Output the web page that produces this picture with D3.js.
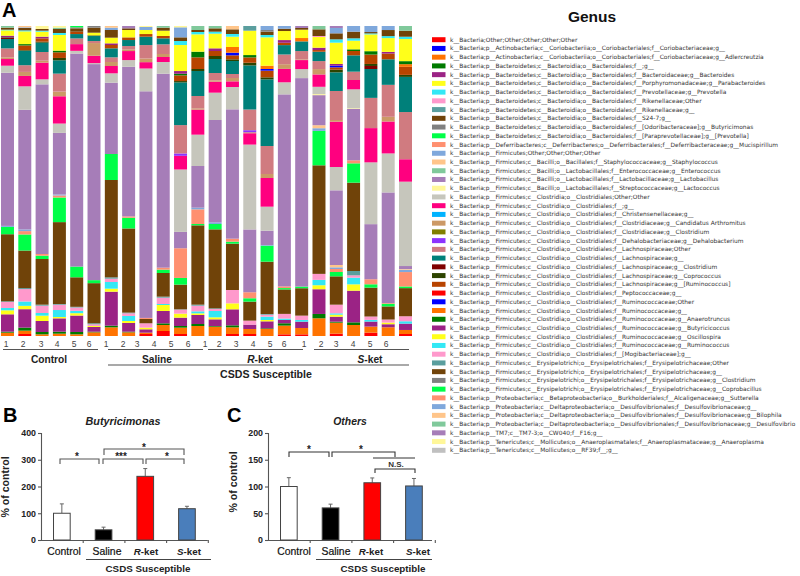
<!DOCTYPE html>
<html>
<head>
<meta charset="utf-8">
<script src="https://cdnjs.cloudflare.com/ajax/libs/d3/7.8.5/d3.min.js"></script>
<style>
html,body{margin:0;padding:0;background:#fff;}
svg{display:block;}
text{font-family:"Liberation Sans",Arial,sans-serif;}
</style>
</head>
<body>
<svg id="chart" width="800" height="576"></svg>
<script>
// ---------- DATA ----------
const taxa = [
"k__Bacteria;Other;Other;Other;Other;Other",
"k__Bacteria;p__Actinobacteria;c__Coriobacteriia;o__Coriobacteriales;f__Coriobacteriaceae;g__",
"k__Bacteria;p__Actinobacteria;c__Coriobacteriia;o__Coriobacteriales;f__Coriobacteriaceae;g__Adlercreutzia",
"k__Bacteria;p__Bacteroidetes;c__Bacteroidia;o__Bacteroidales;f__;g__",
"k__Bacteria;p__Bacteroidetes;c__Bacteroidia;o__Bacteroidales;f__Bacteroidaceae;g__Bacteroides",
"k__Bacteria;p__Bacteroidetes;c__Bacteroidia;o__Bacteroidales;f__Porphyromonadaceae;g__Parabacteroides",
"k__Bacteria;p__Bacteroidetes;c__Bacteroidia;o__Bacteroidales;f__Prevotellaceae;g__Prevotella",
"k__Bacteria;p__Bacteroidetes;c__Bacteroidia;o__Bacteroidales;f__Rikenellaceae;Other",
"k__Bacteria;p__Bacteroidetes;c__Bacteroidia;o__Bacteroidales;f__Rikenellaceae;g__",
"k__Bacteria;p__Bacteroidetes;c__Bacteroidia;o__Bacteroidales;f__S24-7;g__",
"k__Bacteria;p__Bacteroidetes;c__Bacteroidia;o__Bacteroidales;f__[Odoribacteraceae];g__Butyricimonas",
"k__Bacteria;p__Bacteroidetes;c__Bacteroidia;o__Bacteroidales;f__[Paraprevotellaceae];g__[Prevotella]",
"k__Bacteria;p__Deferribacteres;c__Deferribacteres;o__Deferribacterales;f__Deferribacteraceae;g__Mucispirillum",
"k__Bacteria;p__Firmicutes;Other;Other;Other;Other",
"k__Bacteria;p__Firmicutes;c__Bacilli;o__Bacillales;f__Staphylococcaceae;g__Staphylococcus",
"k__Bacteria;p__Firmicutes;c__Bacilli;o__Lactobacillales;f__Enterococcaceae;g__Enterococcus",
"k__Bacteria;p__Firmicutes;c__Bacilli;o__Lactobacillales;f__Lactobacillaceae;g__Lactobacillus",
"k__Bacteria;p__Firmicutes;c__Bacilli;o__Lactobacillales;f__Streptococcaceae;g__Lactococcus",
"k__Bacteria;p__Firmicutes;c__Clostridia;o__Clostridiales;Other;Other",
"k__Bacteria;p__Firmicutes;c__Clostridia;o__Clostridiales;f__;g__",
"k__Bacteria;p__Firmicutes;c__Clostridia;o__Clostridiales;f__Christensenellaceae;g__",
"k__Bacteria;p__Firmicutes;c__Clostridia;o__Clostridiales;f__Clostridiaceae;g__Candidatus Arthromitus",
"k__Bacteria;p__Firmicutes;c__Clostridia;o__Clostridiales;f__Clostridiaceae;g__Clostridium",
"k__Bacteria;p__Firmicutes;c__Clostridia;o__Clostridiales;f__Dehalobacteriaceae;g__Dehalobacterium",
"k__Bacteria;p__Firmicutes;c__Clostridia;o__Clostridiales;f__Lachnospiraceae;Other",
"k__Bacteria;p__Firmicutes;c__Clostridia;o__Clostridiales;f__Lachnospiraceae;g__",
"k__Bacteria;p__Firmicutes;c__Clostridia;o__Clostridiales;f__Lachnospiraceae;g__Clostridium",
"k__Bacteria;p__Firmicutes;c__Clostridia;o__Clostridiales;f__Lachnospiraceae;g__Coprococcus",
"k__Bacteria;p__Firmicutes;c__Clostridia;o__Clostridiales;f__Lachnospiraceae;g__[Ruminococcus]",
"k__Bacteria;p__Firmicutes;c__Clostridia;o__Clostridiales;f__Peptococcaceae;g__",
"k__Bacteria;p__Firmicutes;c__Clostridia;o__Clostridiales;f__Ruminococcaceae;Other",
"k__Bacteria;p__Firmicutes;c__Clostridia;o__Clostridiales;f__Ruminococcaceae;g__",
"k__Bacteria;p__Firmicutes;c__Clostridia;o__Clostridiales;f__Ruminococcaceae;g__Anaerotruncus",
"k__Bacteria;p__Firmicutes;c__Clostridia;o__Clostridiales;f__Ruminococcaceae;g__Butyricicoccus",
"k__Bacteria;p__Firmicutes;c__Clostridia;o__Clostridiales;f__Ruminococcaceae;g__Oscillospira",
"k__Bacteria;p__Firmicutes;c__Clostridia;o__Clostridiales;f__Ruminococcaceae;g__Ruminococcus",
"k__Bacteria;p__Firmicutes;c__Clostridia;o__Clostridiales;f__[Mogibacteriaceae];g__",
"k__Bacteria;p__Firmicutes;c__Erysipelotrichi;o__Erysipelotrichales;f__Erysipelotrichaceae;Other",
"k__Bacteria;p__Firmicutes;c__Erysipelotrichi;o__Erysipelotrichales;f__Erysipelotrichaceae;g__",
"k__Bacteria;p__Firmicutes;c__Erysipelotrichi;o__Erysipelotrichales;f__Erysipelotrichaceae;g__Clostridium",
"k__Bacteria;p__Firmicutes;c__Erysipelotrichi;o__Erysipelotrichales;f__Erysipelotrichaceae;g__Coprobacillus",
"k__Bacteria;p__Proteobacteria;c__Betaproteobacteria;o__Burkholderiales;f__Alcaligenaceae;g__Sutterella",
"k__Bacteria;p__Proteobacteria;c__Deltaproteobacteria;o__Desulfovibrionales;f__Desulfovibrionaceae;g__",
"k__Bacteria;p__Proteobacteria;c__Deltaproteobacteria;o__Desulfovibrionales;f__Desulfovibrionaceae;g__Bilophila",
"k__Bacteria;p__Proteobacteria;c__Deltaproteobacteria;o__Desulfovibrionales;f__Desulfovibrionaceae;g__Desulfovibrio",
"k__Bacteria;p__TM7;c__TM7-3;o__CW040;f__F16;g__",
"k__Bacteria;p__Tenericutes;c__Mollicutes;o__Anaeroplasmatales;f__Anaeroplasmataceae;g__Anaeroplasma",
"k__Bacteria;p__Tenericutes;c__Mollicutes;o__RF39;f__;g__"
];
const taxaColors = [
"#ff0000","#0000ff","#ff7300","#007a00","#9b2385","#ffff1a","#33e8f5","#ff99cc","#5a9e9e","#704309",
"#808080","#00ff48","#ff9070","#7fa8dc","#ffc58a","#80c99b","#a67db8","#fff799","#c6c6bc","#ff007f",
"#00b3ff","#cc9966","#807f00","#8c33ff","#d07b80","#00807a","#800000","#2d4400","#b84400","#ff0000",
"#0000ff","#ff7300","#007a00","#9b2385","#ffff1a","#33e8f5","#ff99cc","#5a9e9e","#704309","#808080",
"#00ff48","#ff9070","#7fa8dc","#ffc58a","#80c99b","#a67db8","#fff799","#c0c0c0"
];
// each sample: [taxon index, relative abundance] (normalised when stacked)
const control1 = [[44,5],[38,6],[35,2],[34,16],[33,5],[26,3],[27,2],[25,28],[24,27],[21,5],[19,20],[18,21],[16,459],[13,3],[11,22],[9,201],[8,2],[7,18],[6,7],[5,12],[4,52],[3,3],[2,10]];
const control2 = [[43,4],[42,2],[38,7],[35,3],[34,38],[32,4],[28,14],[27,2],[25,43],[24,20],[21,12],[19,31],[18,70],[16,357],[13,5],[12,10],[11,48],[9,112],[8,3],[7,37],[6,13],[5,10],[4,55],[3,9],[2,10],[0,6]];
const control3 = [[46,9],[38,5],[35,3],[34,15],[33,5],[27,3],[28,10],[25,28],[24,26],[21,6],[19,50],[18,15],[16,509],[12,5],[11,10],[9,137],[8,3],[7,22],[6,8],[5,16],[4,33],[3,7],[2,5]];
const control4 = [[46,5],[44,4],[38,12],[35,6],[34,47],[32,5],[28,17],[27,7],[25,40],[24,54],[21,14],[19,82],[18,28],[16,185],[13,3],[12,6],[11,74],[9,246],[8,2],[7,16],[6,21],[5,4],[4,40],[3,6],[2,7]];
const control5 = [[39,3],[38,10],[40,4],[28,7],[25,13],[24,17],[19,20],[18,8],[16,635],[11,32],[8,2],[9,88],[7,10],[6,7],[5,7],[4,49],[3,7],[2,5]];
const control6 = [[39,5],[38,15],[34,8],[27,2],[25,15],[24,6],[21,38],[19,22],[18,3],[16,646],[11,9],[9,120],[8,3],[7,5],[5,3],[4,14],[3,2],[2,11]];
const saline1 = [[42,7],[38,23],[43,5],[34,17],[33,5],[28,10],[25,27],[24,14],[21,12],[19,22],[18,28],[16,214],[11,78],[9,292],[8,4],[7,10],[6,20],[5,9],[4,102],[3,5],[2,26]];
const saline2 = [[45,7],[38,5],[34,22],[28,8],[25,18],[24,10],[21,5],[19,27],[18,20],[16,448],[12,4],[11,32],[9,252],[8,2],[7,8],[6,15],[5,6],[4,26],[3,2],[2,11]];
const saline3 = [[42,9],[46,3],[34,12],[28,8],[25,25],[24,40],[21,11],[19,19],[18,68],[16,677],[12,3],[9,13],[7,13],[5,5],[4,10],[2,4],[0,6]];
const saline4 = [[44,5],[38,9],[34,16],[28,7],[25,18],[24,29],[21,9],[19,15],[18,35],[16,582],[12,6],[11,10],[9,71],[8,3],[7,19],[6,3],[5,18],[4,37],[3,5],[2,18],[0,15]];
const saline5 = [[42,30],[46,4],[38,11],[35,12],[34,78],[32,5],[27,4],[33,8],[28,17],[25,128],[24,85],[23,7],[19,41],[18,187],[16,49],[12,89],[11,20],[9,74],[8,1],[7,12],[5,12],[4,25],[3,5],[2,19],[0,6]];
const saline6 = [[44,12],[38,6],[35,7],[34,52],[32,17],[28,35],[27,6],[25,75],[24,37],[21,4],[19,75],[18,94],[16,125],[13,5],[12,44],[11,4],[9,238],[8,3],[7,17],[6,6],[5,5],[4,27],[3,6],[2,30]];
const rket1 = [[44,7],[38,10],[35,6],[34,44],[33,8],[28,15],[27,9],[25,42],[24,22],[21,4],[19,33],[18,82],[16,307],[13,5],[11,16],[9,237],[8,2],[7,6],[6,19],[5,6],[4,20],[3,2],[2,28]];
const rket2 = [[43,10],[38,14],[35,8],[34,31],[31,17],[30,8],[28,12],[27,5],[25,39],[24,12],[21,10],[19,17],[18,67],[16,388],[12,9],[11,6],[9,139],[7,40],[5,18],[4,48],[3,6],[2,20],[0,6]];
const rket3 = [[37,14],[34,73],[32,7],[27,8],[28,16],[25,132],[24,62],[23,6],[21,3],[19,34],[18,254],[16,188],[12,18],[11,10],[9,57],[7,12],[4,13],[2,15],[0,6]];
const rket4 = [[42,12],[38,10],[35,7],[34,85],[39,5],[31,10],[30,5],[28,20],[27,6],[25,200],[24,84],[21,12],[19,86],[18,72],[16,43],[13,2],[11,48],[9,157],[8,2],[7,6],[6,10],[5,4],[4,21],[3,2],[2,21]];
const rket5 = [[42,8],[38,7],[34,27],[33,8],[28,7],[25,28],[24,29],[21,14],[19,40],[18,36],[16,573],[12,5],[11,4],[9,73],[7,14],[6,4],[4,10],[3,7],[2,26],[0,5]];
const rket6 = [[45,6],[38,5],[34,25],[31,10],[25,29],[24,25],[21,2],[19,27],[18,27],[16,624],[11,5],[9,82],[7,13],[6,5],[4,19],[2,19],[0,5]];
const sket1 = [[44,10],[38,20],[36,3],[34,32],[33,7],[28,5],[25,28],[24,24],[21,16],[19,37],[18,22],[17,3],[16,90],[14,9],[13,8],[11,103],[9,325],[7,18],[6,16],[5,12],[4,74],[3,13],[2,53]];
const sket2 = [[45,6],[42,16],[38,18],[35,10],[34,64],[33,5],[30,5],[28,7],[27,8],[25,56],[24,87],[21,5],[19,136],[18,70],[16,224],[14,7],[13,5],[12,9],[11,13],[9,85],[7,26],[6,4],[5,6],[4,15],[3,3],[2,33],[0,7]];
const sket3 = [[42,17],[38,20],[35,7],[34,26],[32,5],[28,13],[25,49],[24,25],[19,28],[18,57],[17,2],[16,154],[12,9],[11,58],[9,265],[8,13],[7,7],[6,20],[5,19],[4,95],[3,8],[2,33]];
const sket4 = [[42,18],[38,4],[35,3],[34,50],[32,10],[26,9],[28,28],[27,6],[25,86],[24,90],[19,102],[18,184],[16,164],[12,15],[11,10],[9,86],[7,10],[6,5],[4,15],[2,18],[0,10]];
const sket5 = [[42,12],[38,18],[35,6],[34,41],[33,5],[28,17],[25,76],[24,95],[21,14],[19,95],[18,116],[16,329],[12,2],[11,8],[9,39],[7,9],[5,5],[4,9],[2,26]];
const sket6 = [[44,14],[38,18],[35,7],[34,66],[32,9],[31,8],[28,24],[27,6],[25,105],[24,141],[19,67],[18,252],[16,9],[14,2],[13,7],[12,43],[11,5],[9,84],[7,15],[6,7],[4,19],[2,12],[0,6]];
const samples = [control1,control2,control3,control4,control5,control6,saline1,saline2,saline3,saline4,saline5,saline6,rket1,rket2,rket3,rket4,rket5,rket6,sket1,sket2,sket3,sket4,sket5,sket6];
const sampleLabels = ["1","2","3","4","5","6","1","2","3","4","5","6","1","2","3","4","5","6","1","2","3","4","5","6"];

const barCategories = ["Control","Saline","R-ket","S-ket"];
const butyricimonas = [100,38,238,117];
const butyricimonasTop = [135,48,267,126];
const others = [100,60,107,101];
const othersTop = [116.5,67,116,115];
const barColors = ["#ffffff","#000000","#ff0000","#4a7ebb"];
const ticksB = [0,100,200,300,400];
const ticksC = [0,50,100,150,200];

// ---------- LAYOUT ----------
const svg = d3.select("#chart");
const INK = "#555";
const font = "Liberation Sans";

function label(x,y,txt,opt={}){
  return svg.append("text").attr("x",x).attr("y",y).text(txt)
    .attr("text-anchor",opt.anchor||"middle")
    .attr("font-size",opt.size||10)
    .attr("font-weight",opt.weight||"bold")
    .attr("font-style",opt.style||"normal")
    .attr("fill",opt.fill||"#222");
}
function italicHead(x,y,head,tail,size){
  const t = svg.append("text").attr("x",x).attr("y",y).attr("text-anchor","middle")
    .attr("font-size",size).attr("font-weight","bold").attr("fill","#222");
  t.append("tspan").attr("font-style","italic").text(head);
  t.append("tspan").text(tail);
}
function hline(x1,x2,y,c=INK,w=1.2){
  svg.append("line").attr("x1",x1).attr("x2",x2).attr("y1",y).attr("y2",y).attr("stroke",c).attr("stroke-width",w);
}

// ---------- PANEL A ----------
const table = samples.map((s,i)=>{
  const row = {id:i};
  taxa.forEach((_,k)=>row[k]=0);
  s.forEach(([k,v])=>row[k]+=v);
  return row;
});
const stack = d3.stack().keys(d3.range(taxa.length)).offset(d3.stackOffsetExpand)(table);
const xA = d3.scaleBand().domain(d3.range(samples.length)).range([1,412]).paddingInner(0.25).paddingOuter(0);
const yA = d3.scaleLinear().domain([0,1]).range([336,26]);

svg.append("g").selectAll("g").data(stack).join("g").attr("fill",(d,i)=>taxaColors[i])
  .selectAll("rect").data(d=>d.filter(p=>p[1]-p[0]>0)).join("rect")
  .attr("x",d=>xA(d.data.id)).attr("width",xA.bandwidth())
  .attr("y",d=>yA(d[1])).attr("height",d=>yA(d[0])-yA(d[1]));

label(2,16.5,"A",{anchor:"start",size:20,fill:"#000"});

const sampleTickX = [6,23,41,57,74,89,106,123,137,154,171,188,205,219,236,253,270,284,304,321,336,353,370,386];
sampleLabels.forEach((s,i)=>label(sampleTickX[i],346.5,s,{size:8.5,weight:"normal",fill:"#444"}));

[[3,98],[108,203],[208,303],[314,409]].forEach(([a,b])=>hline(a,b,349.5));
label(49,362.5,"Control",{size:10.2});
label(157,362.5,"Saline",{size:10.2});
italicHead(260,362.5,"R","-ket",10.2);
italicHead(370,362.5,"S","-ket",10.2);
hline(108,409,365);
label(266,378,"CSDS Susceptible",{size:10.6});

// legend
label(592,21.5,"Genus",{size:15.5,fill:"#111"});
const yLegend = d3.scalePoint().domain(d3.range(taxa.length)).range([39.7,450.3]);
const lg = svg.append("g").selectAll("g").data(taxa).join("g");
lg.append("rect").attr("x",432).attr("width",13.5).attr("height",5)
  .attr("y",(d,i)=>yLegend(i)-2.5).attr("fill",(d,i)=>taxaColors[i]);
lg.append("text").attr("x",450).attr("y",(d,i)=>yLegend(i)+2)
  .attr("font-size",5.9).style("font-family","'DejaVu Sans'").style("text-rendering","geometricPrecision")
  .attr("fill","#333").text(d=>d);

// ---------- PANELS B / C ----------
function barPanel(o){
  const y = d3.scaleLinear().domain(o.domain).range([540,433]);
  const x = d3.scaleBand().domain(barCategories).range([o.x0,o.x0+166.8]).paddingInner(0.6).paddingOuter(0.3);
  const g = svg.append("g");
  const yAxis = d3.axisLeft(y).tickValues(o.ticks).tickSize(3).tickPadding(2);
  const ag = g.append("g").attr("transform",`translate(${o.x0},0)`).call(yAxis);
  ag.selectAll("path,line").attr("stroke",INK).attr("stroke-width",1.1);
  ag.selectAll("text").attr("font-size",8.8).attr("font-weight","bold")
    .attr("fill","#222").style("font-family",font);
  const axisScale = d3.scaleLinear().domain([0,4]).range([o.x0,o.x0+166.8]);
  const xg = g.append("g").attr("transform","translate(0,540)")
    .call(d3.axisBottom(axisScale).tickValues([1,2,3,4]).tickSize(3).tickFormat(""));
  xg.selectAll("path,line").attr("stroke",INK).attr("stroke-width",1.1);
  xg.select("path").attr("d",`M${o.x0},0.5H${o.x0+o.axisLen}`);

  // error stems, then bars
  g.selectAll(".err").data(barCategories).join("path")
    .attr("d",(c,i)=>{
      const cx=x(c)+x.bandwidth()/2;
      return `M${cx},${y(o.values[i])}V${y(o.tops[i])}M${cx-2},${y(o.tops[i])}H${cx+2}`;
    }).attr("fill","none").attr("stroke","#666").attr("stroke-width",1);
  g.selectAll(".bar").data(barCategories).join("rect")
    .attr("x",c=>x(c)).attr("width",x.bandwidth())
    .attr("y",(c,i)=>y(o.values[i])).attr("height",(c,i)=>540-y(o.values[i]))
    .attr("fill",(c,i)=>barColors[i]).attr("stroke","#444").attr("stroke-width",1);
  return {x,y};
}
function bracket(x1,x2,y,dip,c="#555"){
  svg.append("path").attr("d",`M${x1},${y+dip}V${y}H${x2}V${y+dip}`)
    .attr("fill","none").attr("stroke",c).attr("stroke-width",1.1);
}

// B
barPanel({x0:41,domain:[0,400],ticks:ticksB,values:butyricimonas,tops:butyricimonasTop,axisLen:166.8});
label(3,422,"B",{anchor:"start",size:20,fill:"#000"});
italicHead(123,425,"Butyricimonas","",10.8);
svg.append("text").attr("transform","translate(9,487) rotate(-90)").attr("text-anchor","middle")
  .attr("font-size",10.6).attr("font-weight","bold").attr("fill","#222").text("% of control");
label(64,554.5,"Control",{size:10.4,weight:"normal",fill:"#111"}).attr("stroke","#111").attr("stroke-width",0.2);
label(107,554.5,"Saline",{size:10.4,weight:"normal",fill:"#111"}).attr("stroke","#111").attr("stroke-width",0.2);
italicHead(146,554.5,"R","-ket",9.8);
italicHead(189,554.5,"S","-ket",9.8);
hline(86,211,559.5,"#444",1);
label(148,572,"CSDS Susceptible",{size:9.8});
bracket(60,99,459,5);
bracket(103,143,459,5);
bracket(146,184,459,5);
bracket(104,184,449,6);
[[77,460,"*"],[121,460,"***"],[167,460,"*"],[144,451,"*"]].forEach(([a,b,s])=>label(a,b,s,{size:10}));

// C
barPanel({x0:268,domain:[0,200],ticks:ticksC,values:others,tops:othersTop,axisLen:164});
label(227,422,"C",{anchor:"start",size:20,fill:"#000"});
italicHead(350,425,"Others","",10.4);
svg.append("text").attr("transform","translate(237,482) rotate(-90)").attr("text-anchor","middle")
  .attr("font-size",10.6).attr("font-weight","bold").attr("fill","#222").text("% of control");
label(294,554.5,"Control",{size:10.4,weight:"normal",fill:"#111"}).attr("stroke","#111").attr("stroke-width",0.2);
label(336,554.5,"Saline",{size:10.4,weight:"normal",fill:"#111"}).attr("stroke","#111").attr("stroke-width",0.2);
italicHead(371,554.5,"R","-ket",9.8);
italicHead(418,554.5,"S","-ket",9.8);
hline(316,432,559.5,"#444",1);
label(383,572,"CSDS Susceptible",{size:9.8});
bracket(289,329,452,5,"#333");
bracket(332,395,452,5,"#333");
hline(373,415,458,"#333",1);
bracket(375,415,469,4,"#333");
label(309,453,"*",{size:10});
label(361,453,"*",{size:10});
label(396,467,"N.S.",{size:8,fill:"#333"});
</script>
</body>
</html>
